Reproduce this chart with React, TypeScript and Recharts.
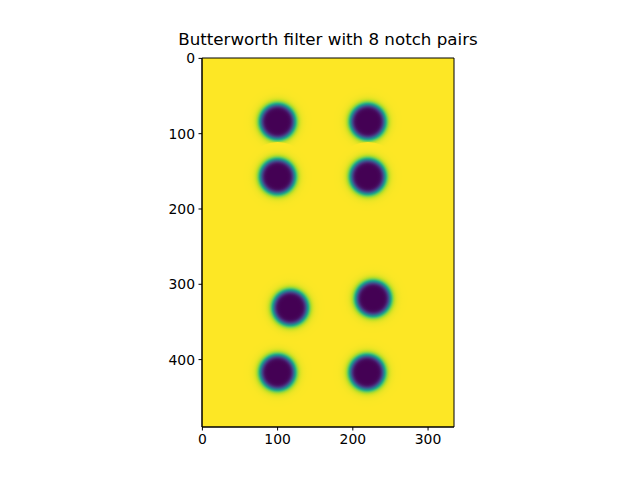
import React from "react";
import {
  ScatterChart,
  Scatter,
  XAxis,
  YAxis,
  ReferenceArea,
} from "recharts";

// notch centres in image pixel coordinates (col, row)
const notchX = [100, 220, 100, 220, 117, 227, 100, 219];
const notchY = [84, 84, 157, 157, 331, 319, 417, 417];
const xTicks = [0, 100, 200, 300];
const yTicks = [0, 100, 200, 300, 400];
const imgW = 335;
const imgH = 490;

const D0 = 23;
const ORDER = 5;

const points = notchX.map((x, i) => ({ x, y: notchY[i] }));

// viridis anchors
const VIRIDIS = [
  "#440154", "#482475", "#414487", "#355f8d", "#2a788e", "#21918c",
  "#22a884", "#44bf70", "#7ad151", "#bddf26", "#fde725",
];

const hexToRgb = (h: string) => [
  parseInt(h.slice(1, 3), 16),
  parseInt(h.slice(3, 5), 16),
  parseInt(h.slice(5, 7), 16),
];

const viridis = (t: number) => {
  const v = Math.min(1, Math.max(0, t)) * 10;
  const i = Math.min(9, Math.floor(v));
  const f = v - i;
  const a = hexToRgb(VIRIDIS[i]);
  const b = hexToRgb(VIRIDIS[i + 1]);
  const c = a.map((av, k) => Math.round(av + (b[k] - av) * f));
  return `rgb(${c[0]},${c[1]},${c[2]})`;
};

const W = 640;
const H = 480;
const plotLeft = 202;
const plotTop = 58;
const plotW = 252;
const plotH = 369;
const pxPerUnit = plotW / imgW;
const R_UNITS = 2 * D0;

const stops = Array.from({ length: 41 }, (_, i) => {
  const t = i / 40;
  const d = t * R_UNITS;
  const h = d === 0 ? 0 : 1 / (1 + Math.pow(D0 / d, 2 * ORDER));
  return { offset: t, color: viridis(h) };
});

const NotchShape = (props: any) => {
  const { cx, cy } = props;
  if (cx == null || cy == null) return null;
  return <circle cx={cx} cy={cy} r={R_UNITS * pxPerUnit} fill="url(#notchGrad)" />;
};

const font = "'DejaVu Sans', sans-serif";

export default function App() {
  return (
    <div style={{ position: "absolute", left: 0, top: 0, width: W, height: H, background: "#fff" }}>
      <div
        style={{
          position: "absolute",
          left: plotLeft + plotW / 2 - 200,
          width: 400,
          top: 33,
          textAlign: "center",
          fontFamily: font,
          fontSize: 16.7,
          lineHeight: "13px",
          whiteSpace: "nowrap",
          color: "#000",
        }}
      >
        Butterworth filter with 8 notch pairs
      </div>
      <ScatterChart
        width={W}
        height={H}
        margin={{ top: plotTop, left: plotLeft - 50, right: W - plotLeft - plotW, bottom: H - plotTop - plotH - 30 }}
      >
        <defs>
          <radialGradient id="notchGrad" cx="50%" cy="50%" r="50%">
            {stops.map((s, i) => (
              <stop key={i} offset={s.offset} stopColor={s.color} />
            ))}
          </radialGradient>
        </defs>
        <XAxis
          type="number"
          dataKey="x"
          domain={[-0.5, imgW - 0.5]}
          ticks={xTicks}
          allowDataOverflow
          height={30}
          tickSize={3.5}
          tickMargin={3.5}
          axisLine={{ stroke: "#000" }}
          tickLine={{ stroke: "#000" }}
          tick={{ fill: "#000", fontSize: 13.9, fontFamily: font }}
        />
        <YAxis
          type="number"
          dataKey="y"
          reversed
          domain={[-0.5, imgH - 0.5]}
          ticks={yTicks}
          allowDataOverflow
          width={50}
          tickSize={3.5}
          tickMargin={3.5}
          axisLine={{ stroke: "#000" }}
          tickLine={{ stroke: "#000" }}
          tick={{ fill: "#000", fontSize: 13.9, fontFamily: font }}
        />
        <ReferenceArea
          x1={-0.5}
          x2={imgW - 0.5}
          y1={-0.5}
          y2={imgH - 0.5}
          fill="#fde725"
          fillOpacity={1}
          stroke="#000"
          strokeWidth={1}
        />
        <Scatter data={points} shape={<NotchShape />} isAnimationActive={false} />
      </ScatterChart>
    </div>
  );
}
